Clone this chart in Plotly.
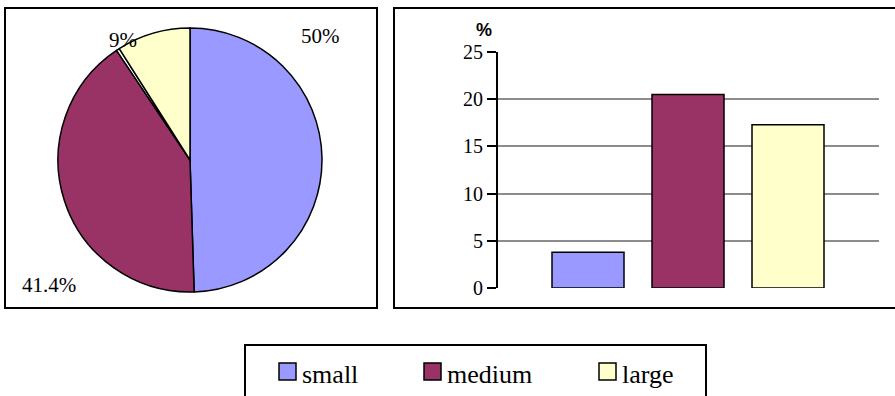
import plotly.graph_objects as go

# ---- data ----
categories = ["small", "medium", "large"]
colors = ["#9999FF", "#993366", "#FFFFCC"]

pie_labels = ["small", "medium", "other", "large"]
pie_values = [49.5, 41.1, 0.4, 9.0]
pie_colors = ["#9999FF", "#993366", "#FFFFFF", "#FFFFCC"]
pie_text = ["50%", "41.4%", "9%"]

bar_values = [3.8, 20.5, 17.3]
y_ticks = [0, 5, 10, 15, 20, 25]

W, H = 895, 396
def px(x):
    return x / W
def py(y):
    return 1 - y / H

SERIF = "Liberation Serif"
SANS = "Liberation Sans"

fig = go.Figure()

# pie
fig.add_trace(go.Pie(
    labels=pie_labels, values=pie_values, sort=False, direction="clockwise",
    rotation=0, marker=dict(colors=pie_colors, line=dict(color="black", width=1.5)),
    textinfo="none", hoverinfo="label+percent", showlegend=False,
    domain=dict(x=[px(58), px(322)], y=[py(292), py(28)]),
))

# bars
fig.add_trace(go.Bar(
    x=list(range(len(categories))), y=bar_values,
    marker=dict(color=colors, line=dict(color="black", width=1.5)),
    width=0.72, showlegend=False, xaxis="x", yaxis="y",
    hovertext=categories,
))

fig.update_layout(
    template="none",
    width=W, height=H, margin=dict(l=0, r=0, t=0, b=0, pad=0, autoexpand=False),
    showlegend=False,
    paper_bgcolor="white", plot_bgcolor="white",
    xaxis=dict(domain=[px(498), px(879)], range=[-0.9, 2.91], automargin=False,
               showticklabels=False, showgrid=False, zeroline=False,
               showline=False, ticks=""),
    yaxis=dict(domain=[py(288), py(52)], range=[0, 25], tickvals=y_ticks, automargin=False,
               showgrid=True, gridcolor="#8c8c8c", gridwidth=1.5,
               zeroline=False, showline=True, linecolor="black", linewidth=2,
               ticks="outside", ticklen=9, tickwidth=2, tickcolor="black",
               tickfont=dict(family=SERIF, size=20, color="black")),
    font=dict(family=SERIF, color="black"),
)

shapes = []
# panel borders
shapes.append(dict(type="rect", xref="paper", yref="paper",
                   x0=px(5), x1=px(377), y0=py(308), y1=py(8),
                   line=dict(color="black", width=2)))
shapes.append(dict(type="rect", xref="paper", yref="paper",
                   x0=px(394), x1=px(905), y0=py(308), y1=py(8),
                   line=dict(color="black", width=2)))
# legend box
shapes.append(dict(type="rect", xref="paper", yref="paper",
                   x0=px(245), x1=px(706), y0=py(405), y1=py(345),
                   line=dict(color="black", width=2)))

annotations = []
# pie labels
pie_label_pos = [(320, 36), (49, 285), (123, 40)]
for t, (x, y) in zip(pie_text, pie_label_pos):
    annotations.append(dict(x=px(x), y=py(y), xref="paper", yref="paper",
                            text=t, showarrow=False,
                            font=dict(family=SERIF, size=21, color="black"),
                            xanchor="center", yanchor="middle"))
# % axis title
annotations.append(dict(x=px(484), y=py(30), xref="paper", yref="paper",
                        text="<b>%</b>", showarrow=False,
                        font=dict(family=SANS, size=18, color="black"),
                        xanchor="center", yanchor="middle"))

# legend entries
swatch_x = [279, 424, 599]
for c, col, sx in zip(categories, colors, swatch_x):
    shapes.append(dict(type="rect", xref="paper", yref="paper",
                       x0=px(sx), x1=px(sx + 17), y0=py(380), y1=py(363),
                       fillcolor=col, line=dict(color="black", width=1.5)))
    annotations.append(dict(x=px(sx + 21), y=py(374), xref="paper", yref="paper",
                            text=c, showarrow=False,
                            font=dict(family=SERIF, size=26, color="black"),
                            xanchor="left", yanchor="middle"))

fig.update_layout(shapes=shapes, annotations=annotations)

fig.write_html("out.html")
